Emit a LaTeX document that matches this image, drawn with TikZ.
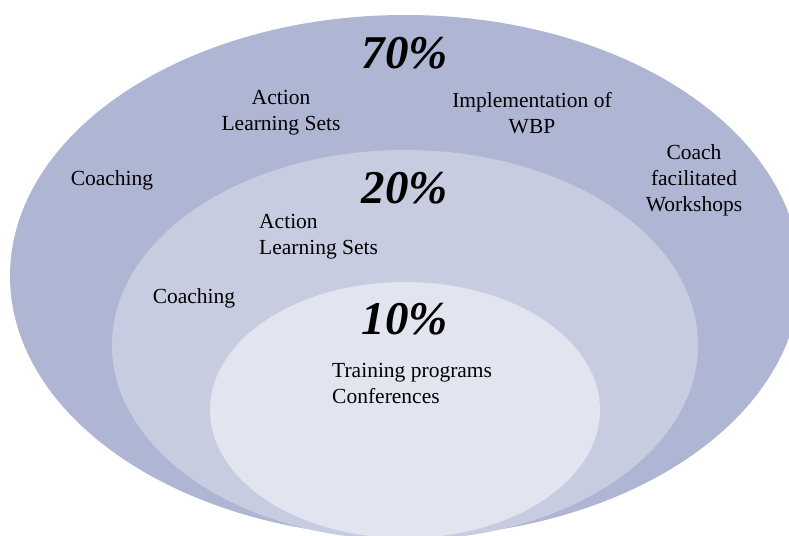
\documentclass[tikz,border=0pt]{standalone}
\usepackage{fontspec}
\setmainfont{Liberation Serif}

\definecolor{ringout}{RGB}{174,182,211}
\definecolor{ringmid}{RGB}{199,204,224}
\definecolor{ringin}{RGB}{226,229,239}

\begin{document}
\begin{tikzpicture}[x=1pt, y=-1pt,
    lbl/.style={font=\fontsize{21.5}{26}\selectfont, inner sep=0pt},
    pct/.style={font=\fontsize{47}{47}\selectfont\bfseries\itshape, inner sep=0pt}]
    \useasboundingbox (0,0) rectangle (789,535);
    \clip (0,0) rectangle (789,535);

    % nested rings, all touching at the bottom
    \fill[ringout] (405,276) ellipse [x radius=395, y radius=261];
    \fill[ringmid] (405,345) ellipse [x radius=293, y radius=195];
    \fill[ringin]  (405,410) ellipse [x radius=195, y radius=128];

    % outer ring: 70%
    \node[pct] (p70) at (405,53) {70\%};
    \node[lbl, align=center] (als1) at (281,113) {Action\\Learning Sets};
    \node[lbl, align=center] (wbp) at (532,113) {Implementation of\\WBP};
    \node[lbl] (coach1) at (112,180) {Coaching};
    \node[lbl, align=center] (cfw) at (694,180) {Coach\\facilitated\\Workshops};

    % middle ring: 20%
    \node[pct] (p20) at (405,188) {20\%};
    \node[lbl, align=left, anchor=west] (als2) at (259,237) {Action\\Learning Sets};
    \node[lbl] (coach2) at (194,298) {Coaching};

    % inner ring: 10%
    \node[pct] (p10) at (405,319) {10\%};
    \node[lbl, align=left, anchor=west] (train) at (332,383) {Training programs\\Conferences};
\end{tikzpicture}
\end{document}
